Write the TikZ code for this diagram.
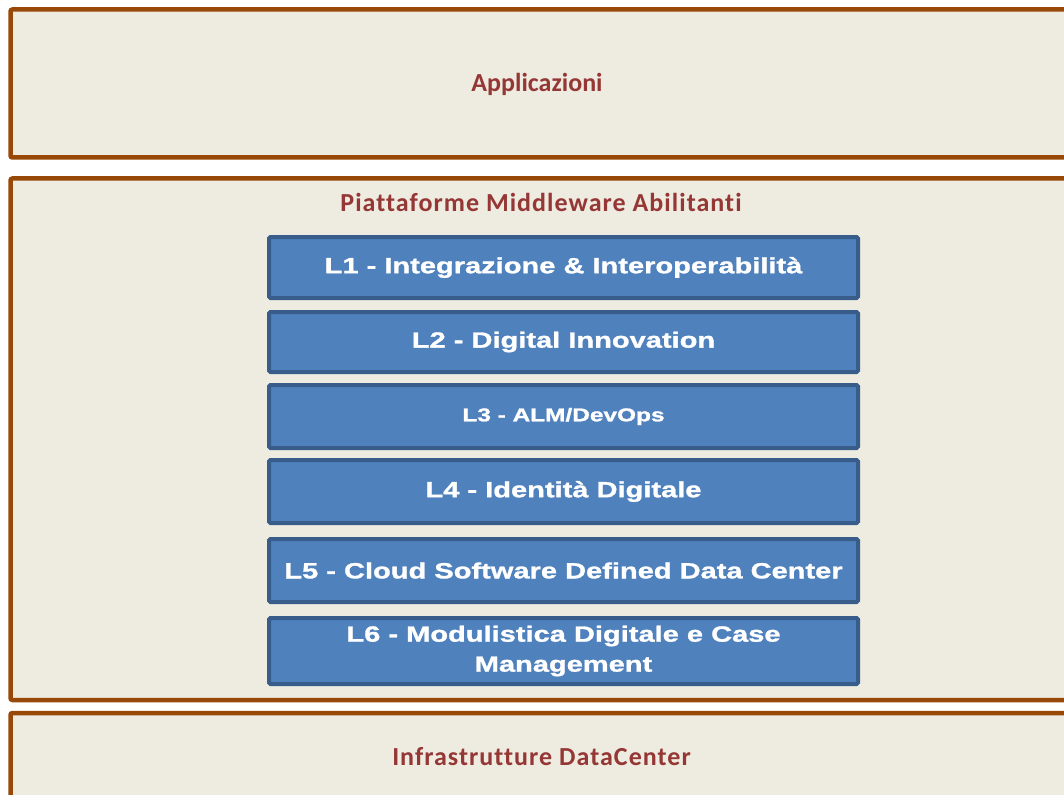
\documentclass[tikz,border=0pt]{standalone}
\usepackage{fontspec}
\setmainfont{Carlito}[Ligatures=NoCommon]
\newfontfamily\widetitlefont{Carlito}[Ligatures=NoCommon, LetterSpace=4]
\newfontfamily\blockfont{Liberation Sans}[FakeStretch=1.32, BoldFeatures={FakeBold=1.3}]
\usetikzlibrary{positioning}
\definecolor{layerfill}{HTML}{EEEBE0}
\definecolor{layerline}{HTML}{984807}
\definecolor{layertext}{HTML}{953735}
\definecolor{blockfill}{HTML}{4F81BD}
\definecolor{blockline}{HTML}{385D8A}
\tikzset{
	layer/.style={draw=layerline, fill=layerfill, line width=4.5pt, rounded corners=2pt},
	layertitle/.style={text=layertext, font=\bfseries\fontsize{26}{30}\selectfont, inner sep=0pt, anchor=base},
	block/.style={draw=blockline, fill=blockfill, line width=4pt, rounded corners=1.5pt,
		minimum width=589pt, text=white, align=center, inner sep=0pt,
		font=\blockfont\bfseries\fontsize{22}{30}\selectfont},
}

\begin{document}
\begin{tikzpicture}[x=1pt,y=-1pt]
		\useasboundingbox (0,0) rectangle (1064,794);
		% layers
		\draw[layer] (10.5,9.5) coordinate (appsnw) rectangle (1090,157.5) coordinate (appsse);
		\draw[layer] (10.5,178.5) coordinate (midnw) rectangle (1090,700) coordinate (midse);
		\draw[layer] (10.5,713) coordinate (infnw) rectangle (1090,820) coordinate (infse);
		\node[layertitle] (apps) at (537,91.7) {Applicazioni};
		\node[layertitle, font=\widetitlefont\bfseries\fontsize{26}{30}\selectfont] (mid) at (541,211.7) {Piattaforme Middleware Abilitanti};
		\node[layertitle, font=\widetitlefont\bfseries\fontsize{26}{30}\selectfont] (inf) at (541.5,765.7) {Infrastrutture DataCenter};
		% blocchi middleware
		\node[block, minimum height=61pt] (l1) at (563.5,267.5) {L1 - Integrazione \& Interoperabilità};
		\node[block, minimum height=60pt] (l2) at (563.5,342) {L2 - Digital Innovation};
		\node[block, minimum height=63pt, font=\blockfont\bfseries\fontsize{18.5}{22}\selectfont] (l3) at (563.5,416.5) {L3 - ALM/DevOps};
		\node[block, minimum height=63pt] (l4) at (563.5,491.5) {L4 - Identità Digitale};
		\node[block, minimum height=63pt] (l5) at (563.5,570.5) {L5 - Cloud Software Defined Data Center};
		\node[block, minimum height=66pt] (l6) at (563.5,651) {L6 - Modulistica Digitale e Case\\Management};
	\end{tikzpicture}
\end{document}
